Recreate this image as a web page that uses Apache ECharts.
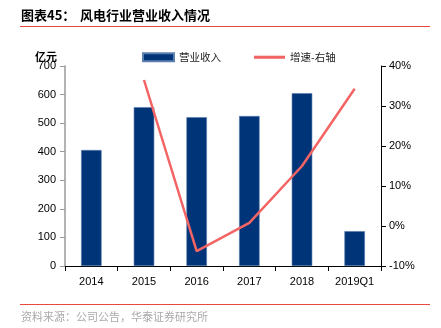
<!DOCTYPE html>
<html>
<head>
<meta charset="utf-8">
<script src="https://cdn.jsdelivr.net/npm/echarts@6/dist/echarts.min.js"></script>
<style>
html,body{margin:0;padding:0;background:#fff;}
#chart{width:441px;height:328px;}
</style>
</head>
<body>
<div id="chart"></div>
<script>
// Wind power industry revenue (100m CNY) and growth rate
const categories = ['2014', '2015', '2016', '2017', '2018', '2019Q1'];
const revenue = [406, 556, 521, 525, 605, 122];
const growth = [null, 36.5, -6.3, 0.8, 15.0, 34.3];
const leftTicks = [0, 100, 200, 300, 400, 500, 600, 700];
const rightTicks = [-10, 0, 10, 20, 30, 40];

const cjk = '"Noto Sans CJK SC", sans-serif';
const num = '"Liberation Sans", Arial, sans-serif';

const chart = echarts.init(document.getElementById('chart'), null, {renderer: 'canvas'});
chart.setOption({
  animation: false,
  graphic: [
    {type: 'text', left: 21, top: 9, style: {text: '图表45：', font: 'bold 13px ' + cjk, fill: '#000'}},
    {type: 'text', left: 80, top: 9, style: {text: '风电行业营业收入情况', font: 'bold 13px ' + cjk, fill: '#000'}},
    {type: 'rect', shape: {x: 20, y: 26, width: 410, height: 1}, style: {fill: '#e8483f'}},
    {type: 'text', left: 35, top: 51, style: {text: '亿元', font: 'bold 11px ' + cjk, fill: '#000'}},
    {type: 'rect', shape: {x: 20, y: 304, width: 410, height: 1}, style: {fill: '#e8483f'}},
    {type: 'text', left: 21, top: 311, style: {text: '资料来源：公司公告，华泰证券研究所', font: '11px ' + cjk, fill: '#aaa'}}
  ],
  legend: {
    top: 47,
    left: 137,
    itemGap: 33,
    itemWidth: 31,
    itemHeight: 8,
    textStyle: {fontFamily: cjk, fontSize: 10.5, color: '#222'},
    data: [
      {name: '营业收入', icon: 'rect'},
      {name: '增速-右轴', icon: 'path://M0,0 L10,0 L10,1 L0,1 Z'}
    ]
  },
  grid: {left: 65, right: 60, top: 66, bottom: 62, containLabel: false},
  xAxis: {
    type: 'category',
    data: categories,
    boundaryGap: true,
    axisLine: {lineStyle: {color: '#000', width: 1}},
    axisTick: {show: true, alignWithLabel: false, length: 5, lineStyle: {color: '#000'}},
    axisLabel: {fontFamily: num, fontSize: 11, color: '#000', margin: 10}
  },
  yAxis: [
    {
      type: 'value',
      min: leftTicks[0],
      max: leftTicks[leftTicks.length - 1],
      interval: 100,
      axisLine: {show: true, lineStyle: {color: '#999', width: 1.5}},
      axisTick: {show: true, length: 5, lineStyle: {color: '#999'}},
      splitLine: {show: false},
      axisLabel: {fontFamily: num, fontSize: 11, color: '#000', margin: 9}
    },
    {
      type: 'value',
      min: rightTicks[0],
      max: rightTicks[rightTicks.length - 1],
      interval: 10,
      position: 'right',
      axisLine: {show: true, lineStyle: {color: '#000', width: 1}},
      axisTick: {show: true, length: 5, lineStyle: {color: '#000'}},
      splitLine: {show: false},
      axisLabel: {fontFamily: num, fontSize: 11, color: '#000', margin: 8, formatter: '{value}%'}
    }
  ],
  series: [
    {
      name: '营业收入',
      type: 'bar',
      data: revenue,
      barWidth: '39%',
      itemStyle: {color: '#003478', borderColor: '#5b7fae', borderWidth: 0.6}
    },
    {
      name: '增速-右轴',
      type: 'line',
      yAxisIndex: 1,
      data: growth,
      symbol: 'none',
      lineStyle: {color: '#f36565', width: 2.5},
      itemStyle: {color: '#f36565'}
    }
  ]
});
</script>
</body>
</html>
